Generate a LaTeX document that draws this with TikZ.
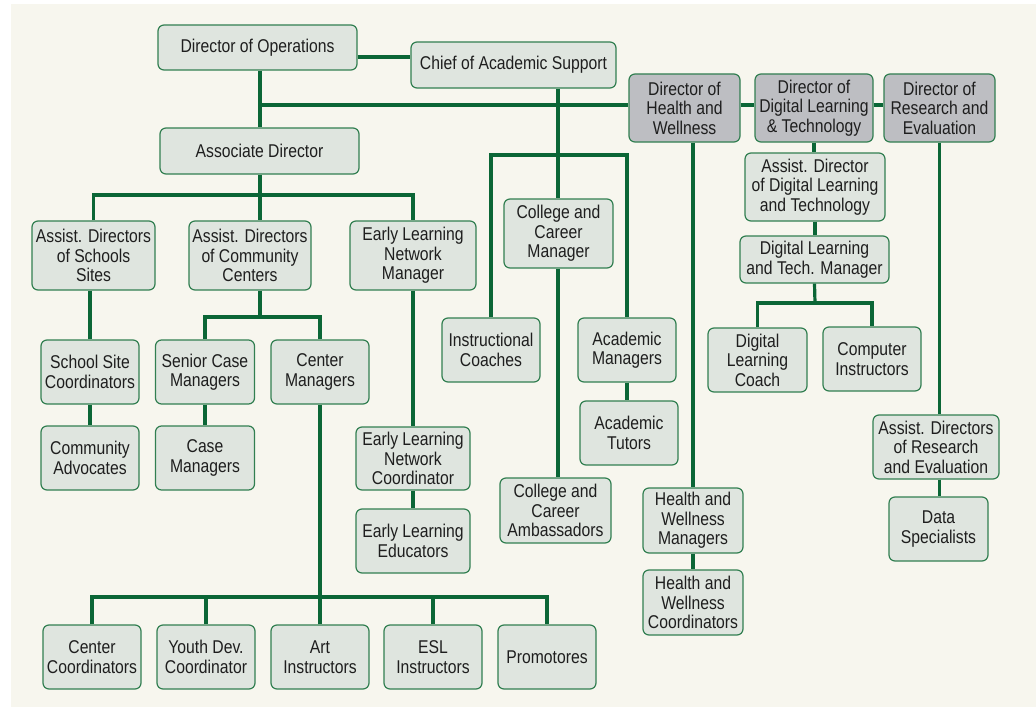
\documentclass[tikz,border=0pt]{standalone}
\usepackage{fontspec}
\setmainfont{Liberation Sans}[FakeStretch=0.85]
\definecolor{panel}{HTML}{F7F6EE}
\definecolor{boxfill}{HTML}{DFE5DF}
\definecolor{boxline}{HTML}{327F51}
\definecolor{linkgreen}{HTML}{0B6636}
\definecolor{headfill}{HTML}{BDBEC2}
\definecolor{ink}{HTML}{1E1E1E}

\begin{document}
\begin{tikzpicture}[x=1pt,y=-1pt,
        box/.style={draw=boxline, line width=1.2pt, fill=boxfill, rounded corners=6pt,
            align=center, inner sep=1pt, text=ink,
            font=\fontsize{18.5}{19.5}\selectfont},
        head/.style={box, fill=headfill},
        link/.style={draw=linkgreen, line width=3.2pt}]
                \useasboundingbox (0,0) rectangle (1036,709);
                \fill[panel] (11,4) rectangle (1036,707);
                \node[box, minimum width=199, minimum height=45] (dirops) at (257.5,47.5) {Director of Operations};
                \node[box, minimum width=205, minimum height=46] (chief) at (513.5,65) {Chief of Academic Support};
                \node[head, minimum width=111, minimum height=68] (dirhw) at (684.5,108) {Director of\\Health and\\Wellness};
                \node[head, minimum width=118, minimum height=68] (dirdl) at (814,108) {Director of\\Digital Learning\\\& Technology};
                \node[head, minimum width=111, minimum height=68] (dirre) at (939.5,108) {Director of\\Research and\\Evaluation};
                \node[box, minimum width=199, minimum height=46] (assocdir) at (259.5,151) {Associate Director};
                \node[box, minimum width=123, minimum height=69] (adschool) at (93.5,255.5) {Assist. Directors\\of Schools\\Sites};
                \node[box, minimum width=122, minimum height=69] (adcomm) at (250,255.5) {Assist. Directors\\of Community\\Centers};
                \node[box, minimum width=126, minimum height=69] (elmgr) at (413,255.5) {Early Learning\\Network\\Manager};
                \node[box, minimum width=109, minimum height=69] (ccmgr) at (558.5,233.5) {College and\\Career\\Manager};
                \node[box, minimum width=98, minimum height=64] (instr) at (491,350) {Instructional\\Coaches};
                \node[box, minimum width=98, minimum height=64] (acadmgr) at (627,350) {Academic\\Managers};
                \node[box, minimum width=98, minimum height=64] (acadtut) at (629,433) {Academic\\Tutors};
                \node[box, minimum width=111, minimum height=65] (ccamb) at (555.5,510.5) {College and\\Career\\Ambassadors};
                \node[box, minimum width=114, minimum height=63] (elcoord) at (413,458.5) {Early Learning\\Network\\Coordinator};
                \node[box, minimum width=114, minimum height=64] (eleduc) at (413,541) {Early Learning\\Educators};
                \node[box, minimum width=98, minimum height=64] (ssc) at (90,372) {School Site\\Coordinators};
                \node[box, minimum width=98, minimum height=64] (commadv) at (90,458) {Community\\Advocates};
                \node[box, minimum width=99, minimum height=64] (senior) at (205,372) {Senior Case\\Managers};
                \node[box, minimum width=99, minimum height=64] (casemgr) at (205,458) {Case\\Managers};
                \node[box, minimum width=98, minimum height=64] (centermgr) at (320,372) {Center\\Managers};
                \node[box, minimum width=100, minimum height=65] (hwmgr) at (693,520.5) {Health and\\Wellness\\Managers};
                \node[box, minimum width=100, minimum height=65] (hwcoord) at (693,602.5) {Health and\\Wellness\\Coordinators};
                \node[box, minimum width=140, minimum height=68] (addl) at (815,187) {Assist. Director\\of Digital Learning\\and Technology};
                \node[box, minimum width=149, minimum height=47] (dlmgr) at (814.5,259.5) {Digital Learning\\and Tech. Manager};
                \node[box, minimum width=99, minimum height=64] (dlcoach) at (757.5,360) {Digital\\Learning\\Coach};
                \node[box, minimum width=98, minimum height=64] (compinstr) at (872,359) {Computer\\Instructors};
                \node[box, minimum width=126, minimum height=64] (adre) at (936,447) {Assist. Directors\\of Research\\and Evaluation};
                \node[box, minimum width=99, minimum height=64] (data) at (938.5,529) {Data\\Specialists};
                \node[box, minimum width=98, minimum height=64] (cencoord) at (92,657) {Center\\Coordinators};
                \node[box, minimum width=98, minimum height=64] (youth) at (206,657) {Youth Dev.\\Coordinator};
                \node[box, minimum width=98, minimum height=64] (art) at (320,657) {Art\\Instructors};
                \node[box, minimum width=98, minimum height=64] (esl) at (433,657) {ESL\\Instructors};
                \node[box, minimum width=98, minimum height=64] (promo) at (547,657) {Promotores};
                \coordinate (hub) at (260,105);
                \coordinate (split1) at (260,195);
                \coordinate (split2) at (558,155);
                \coordinate (split3) at (260,317);
                \coordinate (split4) at (320,597);
                \coordinate (split5) at (815,303);
                \draw[link] ([yshift=-9.5pt]dirops.east) to ([yshift=-9.5pt]dirops.east -| chief.west);
                \draw[link] (dirops.south -| hub) to (assocdir.north -| hub);
                \draw[link] (hub) to (hub -| dirhw.west);
                \draw[link] (dirhw.east |- hub) to (dirdl.west |- hub);
                \draw[link] (dirdl.east |- hub) to (dirre.west |- hub);
                \draw[link] (chief.south -| split2) to (ccmgr.north -| split2);
                \draw[link] (instr.north) |- (split2) -| (acadmgr.north);
                \draw[link] (acadmgr.south) to (acadmgr.south |- acadtut.north);
                \draw[link] (ccmgr.south -| split2) to (ccamb.north -| split2);
                \draw[link] (hwmgr.north |- dirhw.south) to (hwmgr.north);
                \draw[link] (hwmgr.south) to (hwcoord.north);
                \draw[link] (dirdl.south) to (dirdl.south |- addl.north);
                \draw[link] (addl.south) to (addl.south |- dlmgr.north);
                \draw[link] (dlmgr.south) to (split5);
                \draw[link] (dlcoach.north) |- (split5) -| (compinstr.north);
                \draw[link] (dirre.south) to (dirre.south |- adre.north);
                \draw[link] (dirre.south |- adre.south) to (dirre.south |- data.north);
                \draw[link] (assocdir.south -| split1) to (adcomm.north -| split1);
                \draw[link] (adschool.north) |- (split1) -| (elmgr.north);
                \draw[link] (ssc.north |- adschool.south) to (ssc.north);
                \draw[link] (ssc.south) to (commadv.north);
                \draw[link] (adcomm.south -| split3) to (split3);
                \draw[link] (senior.north) |- (split3) -| (centermgr.north);
                \draw[link] (senior.south) to (casemgr.north);
                \draw[link] (elmgr.south) to (elcoord.north);
                \draw[link] (elcoord.south) to (eleduc.north);
                \draw[link] (centermgr.south) to (split4);
                \draw[link] (cencoord.north) |- (split4) -| (promo.north);
                \foreach \n in {youth,art,esl}
                    \draw[link] (\n.north) to (\n.north |- split4);
            \end{tikzpicture}
\end{document}
